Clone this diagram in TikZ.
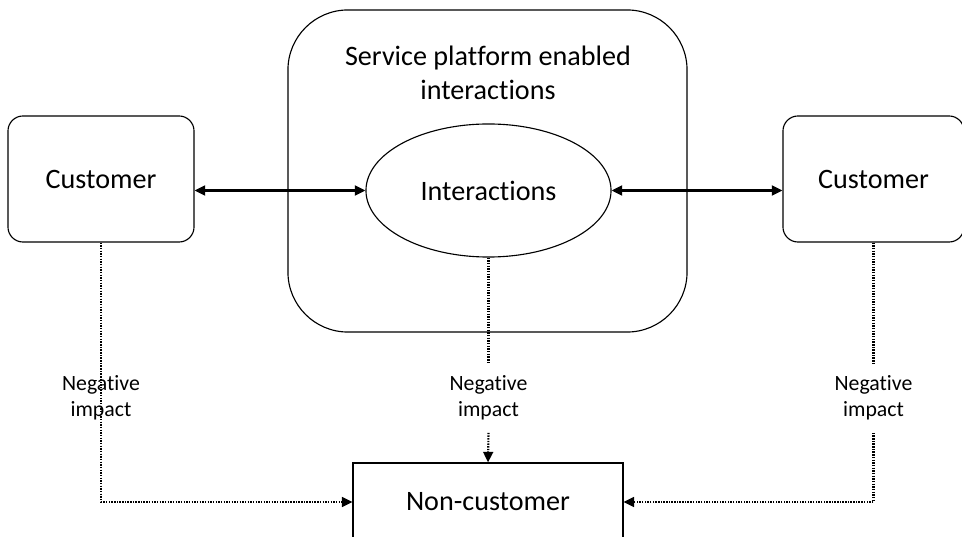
\documentclass[tikz,border=0pt]{standalone}
\usepackage{fontspec}
\setmainfont{Carlito}[Ligatures={NoCommon}]
\usetikzlibrary{arrows.meta,shapes.geometric}

\begin{document}
\begin{tikzpicture}[x=0.025cm,y=-0.025cm,
    custbox/.style={draw,rounded corners=0.375cm,line width=0.8pt,inner sep=0pt,font=\fontsize{20}{24}\selectfont},
    impact/.style={align=center,inner sep=0pt,minimum height=1.725cm,font=\fontsize{15.5}{18.5}\selectfont},
    both/.style={line width=1.6pt,{Triangle[length=7.5pt,width=7pt]}-{Triangle[length=7.5pt,width=7pt]}},
    neg/.style={line width=1.5pt,dash pattern=on 1pt off 0.9pt}]
    \useasboundingbox (0,0) rectangle (962,537);

    \node [draw,rounded corners=1.5cm,line width=0.8pt,minimum width=9.975cm,minimum height=8.05cm] (platform) at (487.5,171) {};
    \node [align=center,font=\fontsize{20}{24}\selectfont] (ptitle) at (488,73) {Service platform enabled\\interactions};
    \node [draw,ellipse,line width=0.8pt,inner sep=0pt,minimum width=6.125cm,minimum height=3.325cm,font=\fontsize{20}{24}\selectfont] (inter) at (488.5,190.5) {Interactions};

    \node [custbox,minimum width=4.65cm,minimum height=3.15cm] (lcust) at (101,179) {Customer};
    \node [custbox,minimum width=4.525cm,minimum height=3.15cm] (rcust) at (873.5,179) {Customer};
    \node [draw,line width=0.8pt,inner sep=0pt,minimum width=6.75cm,minimum height=1.95cm,font=\fontsize{20}{24}\selectfont] (noncust) at (488,502) {Non-customer};

    \draw [both] (inter.west -| lcust.east) -- (inter.west);
    \draw [both] (inter.east) -- (inter.east -| rcust.west);

    % negative impact on the non-customer
    \node [impact] (lneg) at (101,398) {Negative\\impact};
    \node [impact] (mneg) at (488.5,398) {Negative\\impact};
    \node [impact] (rneg) at (873.5,398) {Negative\\impact};
    \draw [neg,-{Triangle[length=7.5pt,width=7pt]}] (lcust.south) |- (noncust.west);
    \draw [neg] (inter.south) -- (mneg.north);
    \draw [neg,-{Triangle[length=7.5pt,width=7pt]}] (mneg.south) -- (noncust.north);
    \draw [neg] (rcust.south) -- (rneg.north);
    \draw [neg,-{Triangle[length=7.5pt,width=7pt]}] (rneg.south) |- (noncust.east);
\end{tikzpicture}
\end{document}
